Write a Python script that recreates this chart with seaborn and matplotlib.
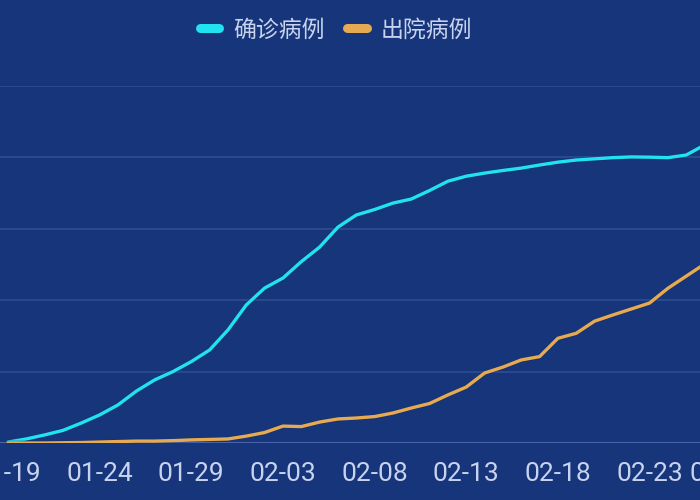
import pandas as pd
import matplotlib.pyplot as plt
import matplotlib.patheffects as pe
import seaborn as sns
from matplotlib.lines import Line2D

# daily cumulative counts, 01-19 to 02-27
dates = pd.date_range('2020-01-19', periods=40, freq='D').strftime('%m-%d').tolist()
confirmed = [4, 17, 34, 53, 84, 118, 160, 218, 265, 300, 342, 391, 475, 580, 651, 693,
             762, 823, 907, 958, 981, 1008, 1025, 1061, 1100, 1121, 1134, 1145, 1155,
             1168, 1180, 1189, 1194, 1199, 1202, 1201, 1199, 1210, 1252, 1270]
discharged = [0, 0, 0, 1, 2, 4, 6, 8, 8, 10, 13, 15, 17, 29, 44, 71, 69, 88, 101, 105,
              111, 126, 147, 166, 202, 235, 294, 319, 349, 363, 440, 461, 512, 538, 563,
              588, 650, 701, 752, 800]
series_names = ['确诊病例', '出院病例']
colors = ['#20e2f0', '#e6aa52']

bg = '#17357a'
txt = '#c8d3ef'

sns.set_theme(style='dark')
plt.rcParams['font.family'] = ['Roboto', 'Noto Sans CJK SC', 'DejaVu Sans']

df = pd.DataFrame({
    'day': list(range(len(dates))) * 2,
    'value': confirmed + discharged,
    'series': [series_names[0]] * len(dates) + [series_names[1]] * len(dates),
})

fig = plt.figure(figsize=(7, 5), dpi=100, facecolor=bg)
# axes runs past the right edge, so the chart looks cropped like the reference
ax = fig.add_axes([0, 0.114, 1.2, 0.714])
ax.set_facecolor(bg)

sns.lineplot(data=df, x='day', y='value', hue='series', palette=colors,
             linewidth=2.4, ax=ax, legend=False, solid_joinstyle='round',
             solid_capstyle='round')
for line in ax.lines:
    line.set_path_effects([pe.Stroke(linewidth=3.4, foreground='#16306a', alpha=0.5), pe.Normal()])

px_per_day = 18.33
ax.set_xlim(-8 / px_per_day, -8 / px_per_day + 840 / px_per_day)
ax.set_ylim(0, 1500)
ax.set_yticks(range(0, 1501, 300))
ax.set_yticklabels([])
# every 5th day plus the last day
ticks = list(range(0, len(dates) - 1, 5)) + [len(dates) - 1]
ax.set_xticks(ticks)
ax.set_xticklabels([dates[t] for t in ticks])
ax.tick_params(axis='x', length=0, pad=14, labelsize=19, labelcolor=txt)
ax.tick_params(axis='y', length=0)
ax.set_xlabel('')
ax.set_ylabel('')

ax.grid(False)
for v in range(300, 1501, 300):
    ax.axhline(v, color='#2c4b92', linewidth=1.3, zorder=0)
ax.axhline(0, color='#4964aa', linewidth=1.5, zorder=1)
for s in ax.spines.values():
    s.set_visible(False)

handles = [Line2D([0], [0], color=c, linewidth=6.5, solid_capstyle='round') for c in colors]
fig.legend(handles, series_names, loc='center', bbox_to_anchor=(0.48, 0.94), ncol=2,
           frameon=False, fontsize=16.5, labelcolor=txt, handlelength=0.85,
           handletextpad=0.6, columnspacing=1.0)

fig.savefig('out.png', dpi=100, facecolor=bg)
